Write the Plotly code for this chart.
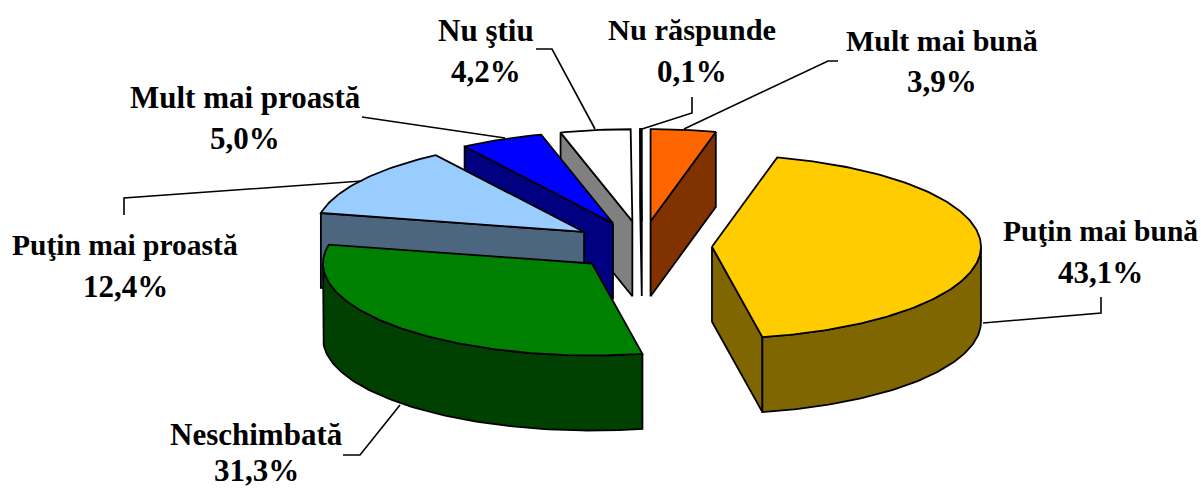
import numpy as np
import plotly.graph_objects as go

# ---- chart data (clockwise from 12 o'clock) ----
categories = ["Mult mai bună", "Puţin mai bună", "Neschimbată", "Puţin mai proastă",
              "Mult mai proastă", "Nu ştiu", "Nu răspunde"]
values = [3.9, 43.1, 31.3, 12.4, 5.0, 4.2, 0.1]
top_colors = ["#ff6600", "#ffcc00", "#008000", "#99ccff", "#0000ff", "#ffffff", "#ffffff"]
side_colors = ["#803300", "#806600", "#004000", "#4d6680", "#000080", "#808080", "#808080"]
draw_order = [6, 0, 5, 4, 3, 1, 2]  # painter's order, back to front

# ---- projection of the tilted, exploded pie onto the canvas ----
CX, CY = 642.0, 246.0
RX, RY = 269.0, 92.0
EX, EY = 70.0, 25.0
DEPTH = 75.0
W, H = 1201, 491
EDGE = dict(color="black", width=1.8)

fractions = np.array(values) / sum(values)
ends = np.cumsum(fractions) * 360.0
starts = ends - fractions * 360.0


def apex(i):
    mid = np.radians((starts[i] + ends[i]) / 2)
    return CX + EX * np.sin(mid), CY - EY * np.cos(mid)


def rim(i, a_deg):
    ax, ay = apex(i)
    a = np.radians(a_deg)
    return ax + RX * np.sin(a), ay - RY * np.cos(a)


def poly(xs, ys, color):
    return go.Scatter(x=list(xs) + [xs[0]], y=list(ys) + [ys[0]], mode="lines", fill="toself",
                      fillcolor=color, line=EDGE, hoverinfo="skip", showlegend=False)


def wall(i, a_deg):
    ax, ay = apex(i)
    rx, ry = rim(i, a_deg)
    return poly([ax, rx, rx, ax], [ay, ry, ry + DEPTH, ay + DEPTH], side_colors[i])


fig = go.Figure()
for i in draw_order:
    s, e = starts[i], ends[i]
    if np.sin(np.radians(s)) < -1e-6:
        fig.add_trace(wall(i, s))
    if np.sin(np.radians(e)) > 1e-6:
        fig.add_trace(wall(i, e))
    lo, hi = max(s, 90.0), min(e, 270.0)
    if hi > lo:
        arc = np.linspace(lo, hi, int(hi - lo) + 2)
        pts = [rim(i, a) for a in arc]
        xs = [p[0] for p in pts]
        ys = [p[1] for p in pts]
        fig.add_trace(poly(xs + xs[::-1], ys + [y + DEPTH for y in ys[::-1]], side_colors[i]))
    arc = np.linspace(s, e, max(int(e - s), 1) + 2)
    pts = [rim(i, a) for a in arc]
    ax, ay = apex(i)
    fig.add_trace(poly([ax] + [p[0] for p in pts], [ay] + [p[1] for p in pts], top_colors[i]))

# ---- leader lines ----
leaders = [
    [(536, 49), (552, 49), (595, 129)],
    [(692, 97), (692, 113), (642, 129)],
    [(838, 61), (828, 61), (684, 129)],
    [(362, 117), (505, 138)],
    [(124, 215), (124, 198), (362, 181)],
    [(343, 455), (360, 455), (400, 405)],
    [(1101, 297), (1101, 313), (983, 323)],
]
lx, ly = [], []
for path in leaders:
    lx += [p[0] for p in path] + [None]
    ly += [p[1] for p in path] + [None]
fig.add_trace(go.Scatter(x=lx, y=ly, mode="lines", line=dict(color="black", width=1.6),
                         hoverinfo="skip", showlegend=False))

# ---- labels ----
name_pos = [(942, 40), (1100, 231), (256, 434), (125, 245), (245, 97), (486, 30), (692, 30)]
value_pos = [(942, 81), (1100, 272), (256, 470), (125, 286), (245, 138), (486, 71), (692, 71)]
name_sizes = [30, 29.5, 31, 29.5, 31, 31, 30.4]
for name, v, np_, vp, fs in zip(categories, values, name_pos, value_pos, name_sizes):
    fig.add_annotation(x=np_[0], y=np_[1], xref="x", yref="y", showarrow=False, align="center",
                       text=f"<b>{name}</b>",
                       font=dict(family="Liberation Serif", size=fs, color="black"))
    fig.add_annotation(x=vp[0], y=vp[1], xref="x", yref="y", showarrow=False, align="center",
                       text=f"<b>{v:.1f}%</b>".replace(".", ","),
                       font=dict(family="Liberation Serif", size=31, color="black"))

fig.update_layout(
    width=W, height=H, margin=dict(l=0, r=0, t=0, b=0),
    paper_bgcolor="white", plot_bgcolor="white", showlegend=False,
    xaxis=dict(range=[0, W], visible=False, fixedrange=True),
    yaxis=dict(range=[H, 0], visible=False, fixedrange=True),
)
fig.write_html("out.html", config={"displayModeBar": False},
               post_script="document.body.style.margin='0';")
